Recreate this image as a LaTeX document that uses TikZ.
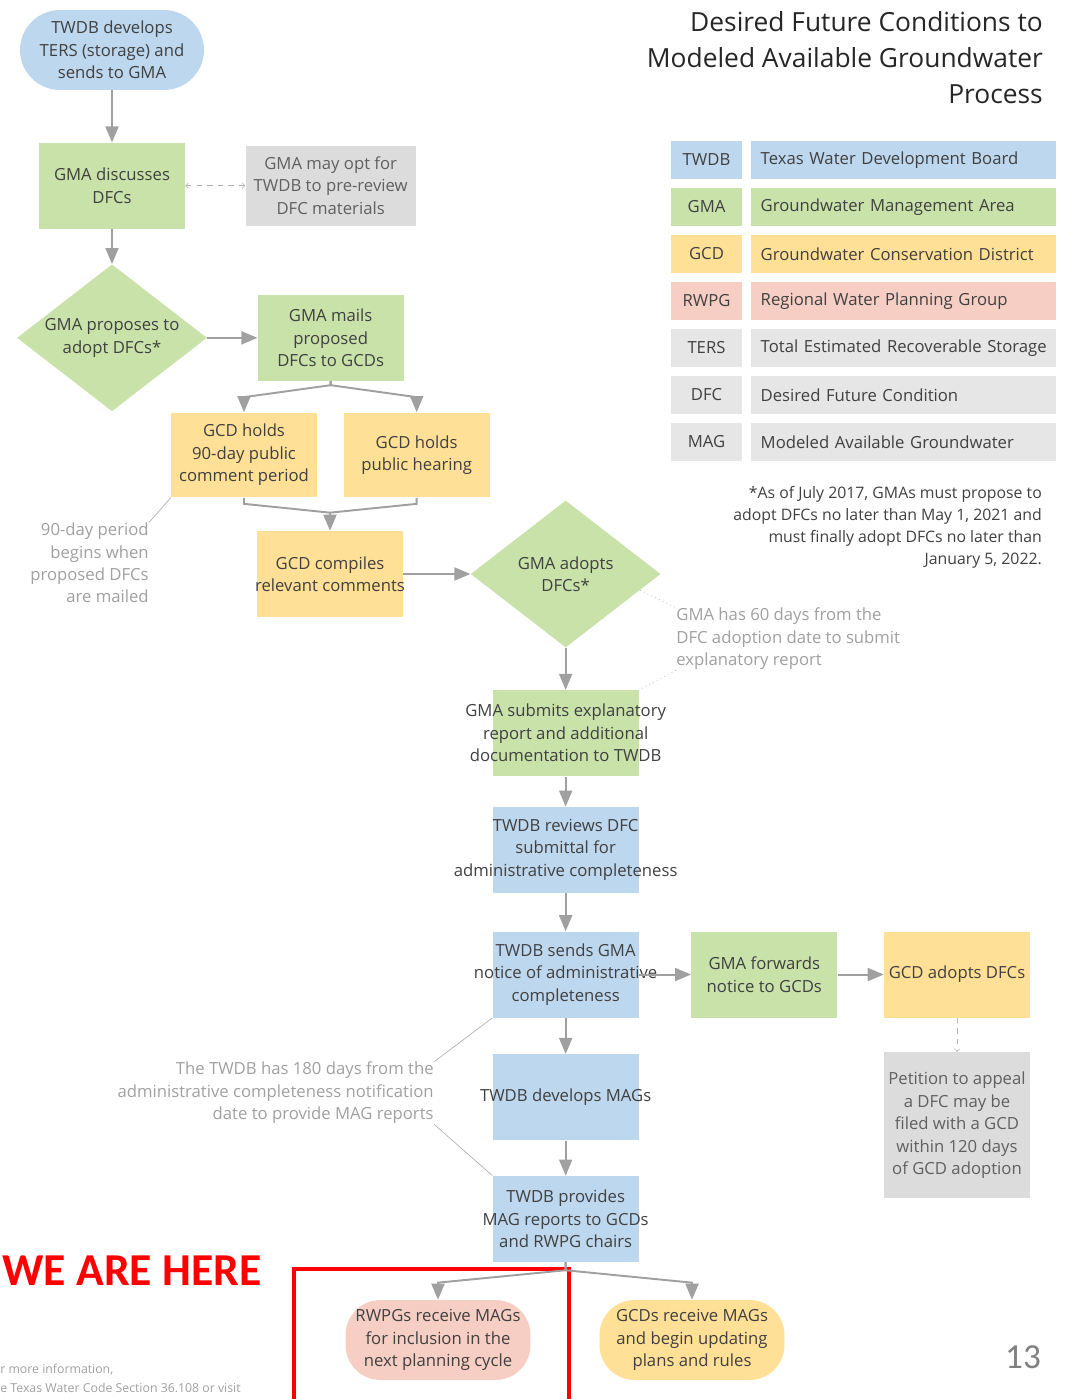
\documentclass[tikz,border=0pt]{standalone}
\usepackage{xcolor}
\usepackage{fontspec}
\setmainfont{Open Sans}
\newfontfamily\calibri{Carlito}
\usepackage{tikz}
\usetikzlibrary{shapes,arrows,positioning,calc}

\definecolor{twdbblue}{RGB}{189,215,238}
\definecolor{gmagreen}{RGB}{200,226,170}
\definecolor{gcdyellow}{RGB}{255,224,150}
\definecolor{rwpgpink}{RGB}{246,206,196}
\definecolor{legendgray}{RGB}{230,230,230}
\definecolor{boxgray}{RGB}{220,220,220}
\definecolor{txtdark}{RGB}{64,64,64}
\definecolor{txtdim}{RGB}{96,96,96}
\definecolor{notegray}{RGB}{160,160,160}
\definecolor{arrowgray}{RGB}{160,160,160}

\begin{document}
\begin{tikzpicture}[x=0.02cm, y=-0.02cm, font=\fontsize{9.5}{12.8}\selectfont, text=txtdark,
  box/.style={rectangle, minimum width=2.92cm, minimum height=1.72cm, inner sep=0pt, label={[align=center]center:#1}},
  dimbox/.style={rectangle, fill=boxgray, minimum width=2.92cm, minimum height=1.72cm, inner sep=0pt, label={[align=center, text=txtdim]center:#1}},
  stadium/.style={rectangle, rounded corners=0.8cm, minimum width=3.68cm, minimum height=1.6cm, inner sep=0pt, align=center},
  decision/.style={diamond, minimum width=3.8cm, minimum height=2.94cm, inner sep=0pt, label={[align=center]center:#1}},
  flow/.style={draw=arrowgray, line width=1.1pt, -triangle 45},
  link/.style={draw=arrowgray, line width=1.1pt},
  option/.style={draw=arrowgray!80, dashed, thin},
  note/.style={text=notegray, inner sep=0pt},
  pointer/.style={draw=notegray!80, thin},
  abbr/.style={minimum width=1.42cm, minimum height=0.76cm, inner sep=0pt},
  term/.style={minimum height=0.76cm, text width=5.9cm, inner xsep=0.1cm, inner ysep=0pt, align=left}]

\useasboundingbox (0,0) rectangle (1074,1399);

\node(ters)[stadium, fill=twdbblue] at (112,50){TWDB develops\\TERS (storage) and\\sends to GMA};
\node(discuss)[box={GMA discusses\\DFCs}, fill=gmagreen, below =1.04cm of ters]{};
\node(preview)[dimbox={GMA may opt for\\TWDB to pre-review\\DFC materials}, minimum width=3.4cm, minimum height=1.6cm, right =1.2cm of discuss]{};
\node(propose)[decision={GMA proposes to\\adopt DFCs*}, fill=gmagreen, below =0.7cm of discuss]{};
\node(mails)[box={GMA mails\\proposed\\DFCs to GCDs}, fill=gmagreen, right =1cm of propose]{};

\node(holds90)[box={GCD holds\\90-day public\\comment period}, fill=gcdyellow, minimum height=1.7cm] at (244,455){};
\node(hearing)[box={GCD holds\\public hearing}, fill=gcdyellow, minimum height=1.7cm, right =0.52cm of holds90]{};
\node(compiles)[box={GCD compiles\\relevant comments}, fill=gcdyellow] at (330,574){};
\node(adopts)[decision={GMA adopts\\DFCs*}, fill=gmagreen, right =1.34cm of compiles]{};

\node(submits)[box={GMA submits explanatory\\report and additional\\documentation to TWDB}, fill=gmagreen, below =0.84cm of adopts]{};
\node(reviews)[box={TWDB reviews DFC\\submittal for\\administrative completeness}, fill=twdbblue, below =0.6cm of submits]{};
\node(notice)[box={TWDB sends GMA\\notice of administrative\\completeness}, fill=twdbblue, below =0.76cm of reviews]{};
\node(forwards)[box={GMA forwards\\notice to GCDs}, fill=gmagreen, right =1.04cm of notice]{};
\node(gcdadopt)[box={GCD adopts DFCs}, fill=gcdyellow, right =0.92cm of forwards]{};
\node(petition)[dimbox={Petition to appeal\\a DFC may be\\filed with a GCD\\within 120 days\\of GCD adoption}, minimum height=2.92cm, below =0.68cm of gcdadopt]{};
\node(develops)[box={TWDB develops MAGs}, fill=twdbblue, below =0.72cm of notice]{};
\node(provides)[box={TWDB provides\\MAG reports to GCDs\\and RWPG chairs}, fill=twdbblue, below =0.7cm of develops]{};
\node(rwpg)[stadium, rounded corners=0.7cm, minimum width=3.7cm, fill=rwpgpink] at (438,1340){RWPGs receive MAGs\\for inclusion in the\\next planning cycle};
\node(gcdrecv)[stadium, rounded corners=0.7cm, minimum width=3.7cm, fill=gcdyellow] at (692,1340){GCDs receive MAGs\\and begin updating\\plans and rules};

\node(title)[anchor=east, align=right, text=black!85, font=\fontsize{15}{20.5}\selectfont] at (1049,58){Desired Future Conditions to\\Modeled Available Groundwater\\Process};

\foreach \abbrv/\full/\shade [count=\i from 0] in {TWDB/Texas Water Development Board/twdbblue, GMA/Groundwater Management Area/gmagreen, GCD/Groundwater Conservation District/gcdyellow, RWPG/Regional Water Planning Group/rwpgpink, TERS/Total Estimated Recoverable Storage/legendgray, DFC/Desired Future Condition/legendgray, MAG/Modeled Available Groundwater/legendgray}{
	\node(k\abbrv)[abbr, fill=\shade] at (706.5,{160+47*\i}){\abbrv};
	\node(v\abbrv)[term, fill=\shade, right =0.16cm of k\abbrv]{\hspace*{0.1cm}\full};
}

\node(footnote)[anchor=east, align=right, font=\fontsize{9}{12.5}\selectfont] at (1048,527){*As of July 2017, GMAs must propose to\\adopt DFCs no later than May 1, 2021 and\\must finally adopt DFCs no later than\\January 5, 2022.};

\node(note60)[note, anchor=west, align=left] at (676,639){GMA has 60 days from the\\DFC adoption date to submit\\explanatory report};
\node(note90)[note, anchor=east, align=right] at (149,563){90-day period\\begins when\\proposed DFCs\\are mailed};
\node(note180)[note, anchor=east, align=right] at (434,1093){The TWDB has 180 days from the\\administrative completeness notification\\date to provide MAG reports};

\node(here)[anchor=south east, inner sep=0pt, text=red, font=\calibri\bfseries\fontsize{26}{30}\selectfont] at (262,1286){WE ARE HERE};
\node(more)[note, anchor=west, align=left, font=\fontsize{7}{10.8}\selectfont] at (0,1378){r more information,\\e Texas Water Code Section 36.108 or visit};
\node(pageno)[text=gray, font=\calibri\fontsize{20}{22}\selectfont] at (1023,1357){13};

\draw[red, line width=0.08cm] (294,1269) rectangle (569,1420);

\draw[flow](ters)--(discuss);
\draw[flow](discuss)--(propose);
\draw[option, <->](discuss)--(preview);
\draw[flow](propose)--(mails);
\draw[flow](mails.south)--++(0,4)--([yshift=0.3cm]holds90.north)--(holds90.north);
\draw[flow](mails.south)--++(0,4)--([yshift=0.3cm]hearing.north)--(hearing.north);
\draw[link](holds90.south)--++(0,6)--([yshift=0.36cm]compiles.north);
\draw[flow](hearing.south)--++(0,6)--([yshift=0.36cm]compiles.north)--(compiles.north);
\draw[flow](compiles)--(adopts);
\draw[flow](adopts)--(submits);
\draw[flow](submits)--(reviews);
\draw[flow](reviews)--(notice);
\draw[flow](notice)--(forwards);
\draw[flow](forwards)--(gcdadopt);
\draw[option, ->](gcdadopt)--(petition);
\draw[flow](notice)--(develops);
\draw[flow](develops)--(provides);
\draw[flow](provides.south)--++(0,8)--([yshift=0.34cm]rwpg.north)--(rwpg.north);
\draw[flow](provides.south)--++(0,8)--([yshift=0.34cm]gcdrecv.north)--(gcdrecv.north);

\draw[pointer](note90.north east)--(holds90.south west);
\draw[pointer](note180.north east)--(notice.south west);
\draw[pointer](note180.south east)--(provides.north west);
\draw[pointer, dotted]($(adopts.east)!0.22!(adopts.south)$)--(note60.north west);
\draw[pointer, dotted](note60.south west)--(submits.north east);

\end{tikzpicture}
\end{document}
